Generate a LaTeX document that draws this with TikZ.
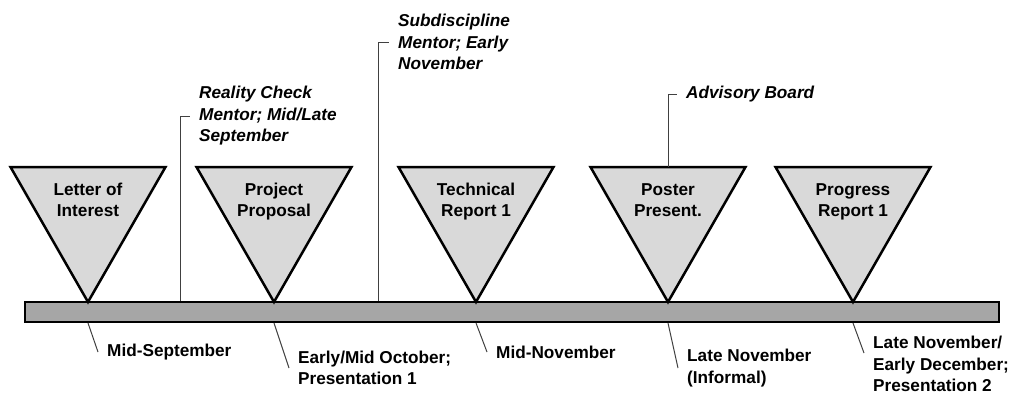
\documentclass[tikz,border=0pt]{standalone}
\usepackage{fontspec}
\setmainfont{Liberation Sans}
\definecolor{trifill}{HTML}{D9D9D9}
\definecolor{barfill}{HTML}{A6A6A6}
\tikzset{
  tri/.style={draw=black,line width=2.5pt,line join=miter,fill=trifill},
  bar/.style={draw=black,line width=2.5pt,fill=barfill},
  tritext/.style={align=center,text depth=4pt,font=\fontsize{17.2}{21.5}\selectfont\bfseries},
  note/.style={align=left,inner xsep=9pt,inner ysep=2pt,font=\fontsize{17.2}{21.5}\selectfont\bfseries},
  mentor/.style={note,font=\fontsize{17.2}{21.5}\selectfont\bfseries\itshape},
  callout/.style={draw=black!75,line width=1pt}
}
\begin{document}
\begin{tikzpicture}[x=1pt,y=-1pt]
\useasboundingbox (0,0) rectangle (1021,394);
\draw[bar](25,302)rectangle(999,322);
\foreach \x/\nm/\txt in {88/loi/{Letter of\\Interest},274/pp/{Project\\Proposal},476/tr/{Technical\\Report 1},668/ps/{Poster\\Present.},853/pr/{Progress\\Report 1}}{
  \draw[tri](\x-77.5,167)--(\x+77.5,167)--(\x,302)--cycle;
  \coordinate(\nm top)at(\x,167);
  \coordinate(\nm b)at(\x,323);
  \node[tritext](\nm t)at(\x,202){\txt};
}
\coordinate(rc0)at(180,301);
\coordinate(sm0)at(378,301);
\node[mentor,anchor=west](rc)at(190,116){Reality Check\\Mentor; Mid/Late\\September};
\node[mentor,anchor=west](sm)at(389,42){Subdiscipline\\Mentor; Early\\November};
\node[mentor,anchor=west](ab)at(677,94){Advisory Board};
\draw[callout](rc0)|-(rc.west);
\draw[callout](sm0)|-(sm.west);
\draw[callout](pstop)|-(ab.west);
\node[note,anchor=west](ms)at(98,352){Mid-September};
\node[note,anchor=west](eo)at(289,368){Early/Mid October;\\Presentation 1};
\node[note,anchor=west](mn)at(487,352){Mid-November};
\node[note,anchor=west](ln)at(678,368){Late November\\(Informal)};
\node[note,anchor=west](ld)at(864,364){Late November/\\Early December;\\Presentation 2};
\draw[callout](loib)--(ms.west);
\draw[callout](ppb)--(eo.west);
\draw[callout](trb)--(mn.west);
\draw[callout](psb)--(ln.west);
\draw[callout](prb)--([yshift=11pt]ld.west);
\end{tikzpicture}
\end{document}
